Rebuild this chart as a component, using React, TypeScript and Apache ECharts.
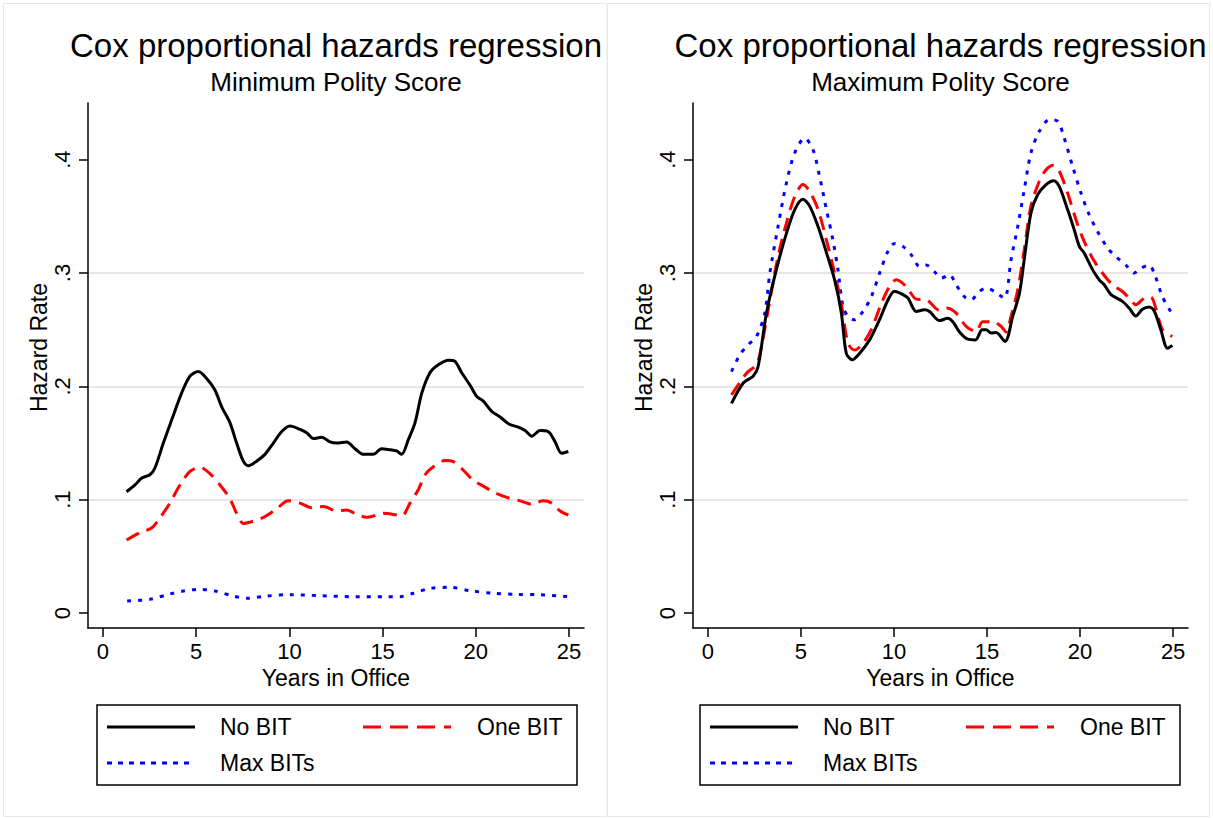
import React, { useEffect, useRef } from "react";
import * as echarts from "echarts";

const FONT = '"Liberation Sans", Arial, Helvetica, sans-serif';

const titleText = "Cox proportional hazards regression";
const subtitles = ["Minimum Polity Score", "Maximum Polity Score"];
const xAxisName = "Years in Office";
const yAxisName = "Hazard Rate";
const seriesNames = ["No BIT", "One BIT", "Max BITs"];
const xTicks = [0, 5, 10, 15, 20, 25];
const yTicks = [0, 0.1, 0.2, 0.3, 0.4];
const yTickLabels = ["0", ".1", ".2", ".3", ".4"];

// Left panel: Minimum Polity Score  [years, hazard]
const minNoBit = [
  [1.27, 0.107], [1.72, 0.113], [2.07, 0.119], [2.52, 0.122], [2.79, 0.128], [3.24, 0.15],
  [3.68, 0.17], [4.22, 0.194], [4.67, 0.209], [5.11, 0.213], [5.56, 0.207], [6.0, 0.197],
  [6.37, 0.182], [6.81, 0.168], [7.17, 0.15], [7.53, 0.134], [7.8, 0.13], [8.24, 0.134],
  [8.69, 0.14], [9.14, 0.15], [9.58, 0.16], [10.03, 0.165], [10.57, 0.162], [10.93, 0.159],
  [11.28, 0.154], [11.73, 0.155], [12.18, 0.151], [12.54, 0.15], [13.07, 0.151], [13.52, 0.145],
  [13.97, 0.14], [14.5, 0.14], [14.95, 0.145], [15.4, 0.144], [15.75, 0.143], [16.02, 0.14],
  [16.38, 0.153], [16.74, 0.168], [17.1, 0.194], [17.54, 0.212], [17.99, 0.219], [18.53, 0.223],
  [18.88, 0.222], [19.24, 0.212], [19.69, 0.201], [20.05, 0.191], [20.4, 0.187], [20.85, 0.178],
  [21.3, 0.173], [21.75, 0.167], [22.28, 0.164], [22.64, 0.161], [23.0, 0.156], [23.44, 0.161],
  [23.89, 0.16], [24.25, 0.151], [24.6, 0.141], [24.96, 0.1425],
];
const minOneBit = [
  [1.27, 0.0645], [1.99, 0.071], [2.61, 0.075], [3.06, 0.084], [3.59, 0.097], [4.13, 0.113],
  [4.67, 0.125], [5.2, 0.1286], [5.74, 0.123], [6.28, 0.113], [6.81, 0.101], [7.17, 0.088],
  [7.53, 0.079], [8.06, 0.081], [8.69, 0.085], [9.32, 0.092], [9.94, 0.099], [10.57, 0.097],
  [11.19, 0.093], [11.82, 0.094], [12.54, 0.09], [13.07, 0.091], [13.61, 0.087], [14.15, 0.0845],
  [14.68, 0.0865], [15.04, 0.088], [15.58, 0.087], [16.02, 0.0856], [16.47, 0.097], [16.92, 0.109],
  [17.28, 0.122], [17.72, 0.129], [18.35, 0.1345], [18.79, 0.1336], [19.33, 0.126], [19.87, 0.117],
  [20.4, 0.112], [21.03, 0.106], [21.66, 0.102], [22.37, 0.099], [23.0, 0.096], [23.62, 0.099],
  [24.07, 0.097], [24.52, 0.09], [24.96, 0.0865],
];
const minMaxBits = [
  [1.3, 0.0106], [2.52, 0.0121], [3.59, 0.0168], [4.31, 0.0194], [5.2, 0.0209], [6.01, 0.0194],
  [6.99, 0.015], [7.71, 0.013], [8.78, 0.015], [10.03, 0.0162], [11.64, 0.0153], [13.43, 0.0144],
  [15.22, 0.0144], [15.93, 0.0144], [16.65, 0.0174], [17.54, 0.0218], [18.62, 0.0227],
  [19.69, 0.0197], [20.94, 0.0174], [22.19, 0.0165], [23.44, 0.0162], [24.96, 0.0144],
];

// Right panel: Maximum Polity Score  [years, hazard]
const maxNoBit = [
  [1.27, 0.185], [1.9, 0.203], [2.43, 0.209], [2.7, 0.2175], [3.15, 0.265], [3.68, 0.303],
  [4.22, 0.335], [4.67, 0.356], [5.11, 0.365], [5.47, 0.359], [5.92, 0.341], [6.37, 0.318],
  [6.81, 0.294], [7.17, 0.265], [7.44, 0.229], [7.76, 0.2234], [8.15, 0.229], [8.69, 0.241],
  [9.23, 0.259], [9.67, 0.276], [10.03, 0.284], [10.48, 0.281], [10.75, 0.278], [11.2, 0.266],
  [11.64, 0.2675], [11.91, 0.266], [12.45, 0.258], [12.89, 0.26], [13.16, 0.257], [13.52, 0.248],
  [13.97, 0.2416], [14.38, 0.241], [14.74, 0.25], [14.95, 0.25], [15.22, 0.247], [15.49, 0.2475],
  [15.97, 0.2396], [16.38, 0.2617], [16.74, 0.282], [17.0, 0.312], [17.36, 0.353], [17.72, 0.369],
  [18.17, 0.378], [18.58, 0.3815], [18.88, 0.3764], [19.33, 0.356], [19.69, 0.338], [19.96, 0.3235],
  [20.22, 0.3176], [20.67, 0.303], [21.03, 0.294], [21.3, 0.2896], [21.66, 0.281], [22.28, 0.275],
  [22.64, 0.269], [23.0, 0.262], [23.35, 0.268], [23.71, 0.27], [23.98, 0.2667], [24.34, 0.25],
  [24.7, 0.2337], [24.96, 0.236],
];
const maxOneBit = [
  [1.27, 0.1925], [1.81, 0.2057], [2.16, 0.213], [2.61, 0.219], [2.88, 0.235], [3.33, 0.276],
  [3.77, 0.3146], [4.22, 0.344], [4.67, 0.3676], [5.11, 0.378], [5.47, 0.372], [5.92, 0.356],
  [6.37, 0.329], [6.81, 0.3], [7.17, 0.273], [7.53, 0.238], [7.89, 0.232], [8.33, 0.238],
  [8.78, 0.25], [9.32, 0.273], [9.76, 0.288], [10.12, 0.294], [10.66, 0.288], [11.2, 0.277],
  [11.73, 0.2764], [12.45, 0.267], [12.89, 0.269], [13.34, 0.2646], [13.88, 0.253], [14.41, 0.2484],
  [14.77, 0.257], [15.31, 0.257], [15.75, 0.253], [16.02, 0.248], [16.29, 0.2617], [16.65, 0.285],
  [17.0, 0.3205], [17.36, 0.359], [17.81, 0.381], [18.17, 0.391], [18.58, 0.395], [18.88, 0.39],
  [19.33, 0.3706], [19.78, 0.347], [20.14, 0.331], [20.67, 0.313], [21.2, 0.3], [21.74, 0.2896],
  [22.28, 0.2837], [22.64, 0.2778], [23.0, 0.272], [23.44, 0.2778], [23.8, 0.2787], [24.07, 0.269],
  [24.43, 0.25], [24.96, 0.244],
];
const maxMaxBits = [
  [1.27, 0.213], [1.72, 0.228], [2.16, 0.2366], [2.61, 0.244], [3.06, 0.2646], [3.33, 0.3],
  [3.77, 0.341], [4.22, 0.3794], [4.67, 0.406], [5.2, 0.419], [5.65, 0.4088], [6.0, 0.3853],
  [6.37, 0.356], [6.72, 0.329], [6.99, 0.303], [7.26, 0.2705], [7.53, 0.2617], [7.89, 0.2587],
  [8.33, 0.266], [8.78, 0.279], [9.23, 0.3], [9.67, 0.319], [10.03, 0.326], [10.48, 0.3235],
  [10.93, 0.316], [11.37, 0.3058], [11.73, 0.307], [12.18, 0.301], [12.54, 0.2955], [12.98, 0.2985],
  [13.34, 0.2896], [13.79, 0.279], [14.14, 0.2764], [14.59, 0.2837], [14.95, 0.2867], [15.4, 0.2837],
  [15.93, 0.2778], [16.29, 0.3117], [16.65, 0.341], [17.0, 0.3735], [17.36, 0.406], [17.81, 0.425],
  [18.35, 0.4353], [18.79, 0.434], [19.15, 0.419], [19.6, 0.394], [20.05, 0.3706], [20.49, 0.3514],
  [20.94, 0.3367], [21.48, 0.322], [21.92, 0.3146], [22.46, 0.307], [22.9, 0.3], [23.27, 0.3043],
  [23.71, 0.307], [23.98, 0.3], [24.43, 0.279], [24.87, 0.266],
];

const panelData = [
  [minNoBit, minOneBit, minMaxBits],
  [maxNoBit, maxOneBit, maxMaxBits],
];

const seriesStyles = [
  { color: "#000000", type: "solid" as any, legendDash: null as any },
  { color: "#ff0000", type: [14, 8] as any, legendDash: [18, 9] as any },
  { color: "#0000ff", type: [4, 7] as any, legendDash: [5, 6] as any },
];

const grids = [
  { left: 88, top: 103, width: 496, height: 525 },
  { left: 693, top: 103, width: 495, height: 525 },
];
const legendBoxes = [{ x: 97, y: 705 }, { x: 700, y: 705 }];
const panelFrames = [
  { x: 3.5, y: 3.5, w: 603.5, h: 813 },
  { x: 607.5, y: 3.5, w: 602, h: 813 },
];

export default function App() {
  const ref = useRef<HTMLDivElement>(null);

  useEffect(() => {
    document.body.style.margin = "0";
    if (!ref.current) return;
    const chart = echarts.init(ref.current, undefined, { renderer: "svg" });

    const xAxes = grids.map((_, i) => ({
      type: "value",
      gridIndex: i,
      min: -0.8,
      max: 25.8,
      name: xAxisName,
      nameLocation: "middle",
      nameGap: 37,
      nameTextStyle: { fontSize: 23, color: "#000", fontFamily: FONT },
      axisLine: { show: true, onZero: false, lineStyle: { color: "#000", width: 1.5 } },
      axisTick: { show: true, customValues: xTicks, length: 9, lineStyle: { color: "#000", width: 1.5 } },
      axisLabel: { customValues: xTicks, fontSize: 22, color: "#000", margin: 12, fontFamily: FONT },
      splitLine: { show: false },
    }));

    const yAxes = grids.map((_, i) => ({
      type: "value",
      gridIndex: i,
      min: -0.0132,
      max: 0.45,
      name: yAxisName,
      nameLocation: "middle",
      nameGap: 31,
      nameTextStyle: { fontSize: 23, color: "#000", fontFamily: FONT, padding: [0, 0, 0, 36] },
      axisLine: { show: true, onZero: false, lineStyle: { color: "#000", width: 1.5 } },
      axisTick: { show: true, customValues: yTicks, length: 9, lineStyle: { color: "#000", width: 1.5 } },
      axisLabel: {
        customValues: yTicks,
        rotate: 90,
        fontSize: 22,
        color: "#000",
        margin: 15,
        fontFamily: FONT,
        formatter: (v: number) => {
          const idx = yTicks.findIndex((t) => Math.abs(t - v) < 1e-9);
          return idx >= 0 ? yTickLabels[idx] : "";
        },
      },
      splitLine: {
        show: true,
        showMinLine: false,
        showMaxLine: false,
        lineStyle: { color: "#e6e6e6", width: 2 },
      },
    }));

    const series: any[] = [];
    panelData.forEach((panel, pi) => {
      panel.forEach((data, si) => {
        series.push({
          type: "line",
          name: seriesNames[si],
          xAxisIndex: pi,
          yAxisIndex: pi,
          data,
          showSymbol: false,
          symbol: "none",
          smooth: 0.3,
          z: 10 - si,
          lineStyle: { color: seriesStyles[si].color, width: 3, type: seriesStyles[si].type },
          itemStyle: { color: seriesStyles[si].color },
        });
      });
    });

    const graphics: any[] = [];
    panelFrames.forEach((f) => {
      graphics.push({
        type: "rect",
        shape: { x: f.x, y: f.y, width: f.w, height: f.h },
        style: { fill: "none", stroke: "#e8e8e8", lineWidth: 1 },
        silent: true,
      });
    });
    grids.forEach((g, i) => {
      const cx = g.left + g.width / 2;
      graphics.push({
        type: "text",
        x: cx,
        y: 45.5,
        style: { text: titleText, fontSize: 33, fontFamily: FONT, fill: "#000", align: "center", verticalAlign: "middle" },
      });
      graphics.push({
        type: "text",
        x: cx,
        y: 82,
        style: { text: subtitles[i], fontSize: 26, fontFamily: FONT, fill: "#000", align: "center", verticalAlign: "middle" },
      });
      const L = legendBoxes[i].x;
      const T = legendBoxes[i].y;
      graphics.push({
        type: "rect",
        shape: { x: L, y: T, width: 480, height: 80 },
        style: { fill: "#fff", stroke: "#000", lineWidth: 1.5 },
        z: 5,
      });
      const items = [
        { kx: L + 10, tx: L + 123, y: T + 22 },
        { kx: L + 266, tx: L + 380, y: T + 22 },
        { kx: L + 10, tx: L + 123, y: T + 58 },
      ];
      items.forEach((it, si) => {
        graphics.push({
          type: "line",
          shape: { x1: it.kx, y1: it.y, x2: it.kx + 88, y2: it.y },
          style: {
            stroke: seriesStyles[si].color,
            lineWidth: 3,
            lineDash: seriesStyles[si].legendDash,
          },
          z: 6,
        });
        graphics.push({
          type: "text",
          x: it.tx,
          y: it.y,
          style: { text: seriesNames[si], fontSize: 23, fontFamily: FONT, fill: "#000", align: "left", verticalAlign: "middle" },
          z: 6,
        });
      });
    });

    chart.setOption({
      animation: false,
      backgroundColor: "#ffffff",
      textStyle: { fontFamily: FONT },
      grid: grids,
      xAxis: xAxes,
      yAxis: yAxes,
      series,
      graphic: graphics,
    });

    return () => chart.dispose();
  }, []);

  return <div ref={ref} style={{ width: 1213, height: 818 }} />;
}
